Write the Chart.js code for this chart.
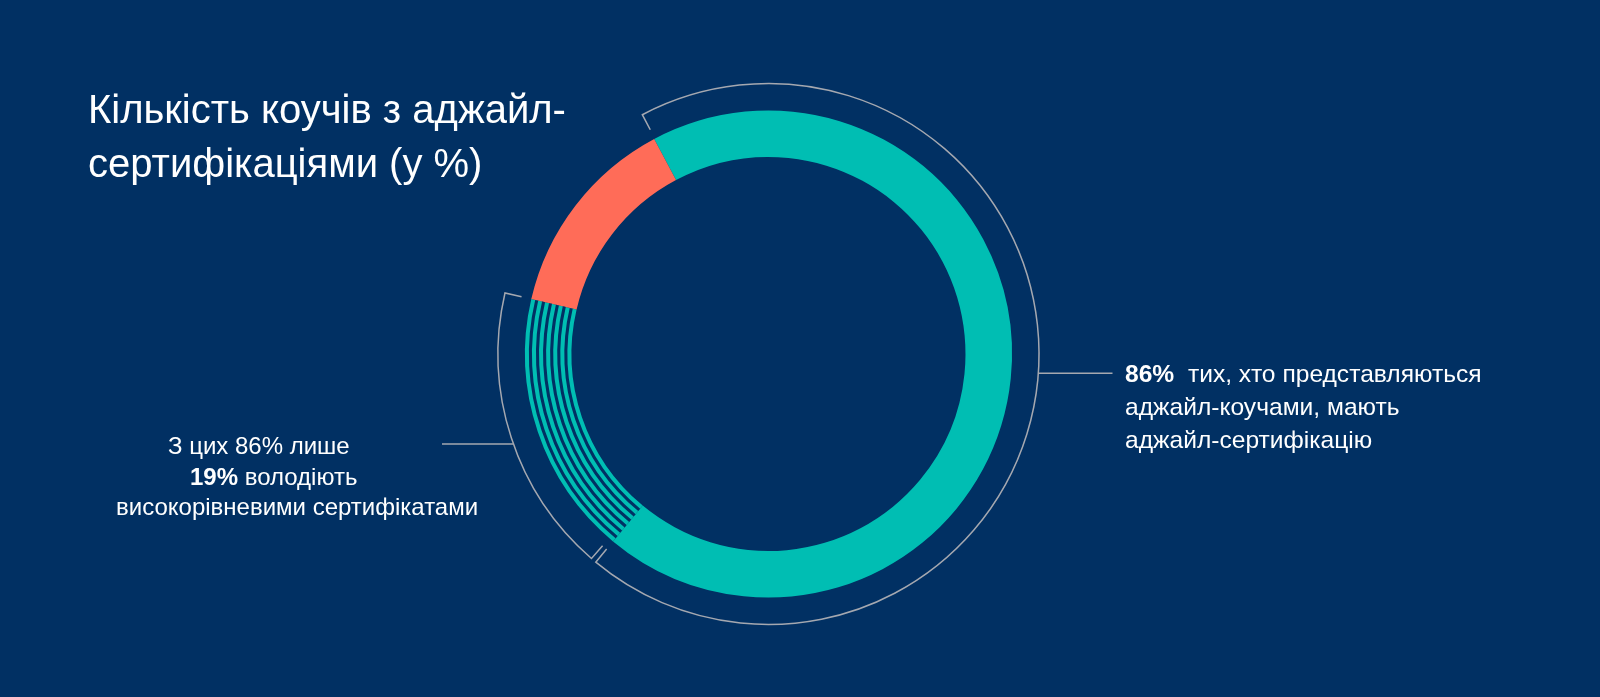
<!DOCTYPE html>
<html>
<head>
<meta charset="utf-8">
<script src="https://cdn.jsdelivr.net/npm/chart.js@4.4.0/dist/chart.umd.min.js"></script>
<style>
  html, body { margin: 0; padding: 0; background: #013063; }
  #wrap { position: relative; width: 1600px; height: 697px; overflow: hidden; background: #013063; font-family: "Liberation Sans", Arial, sans-serif; color: #ffffff; }
  #c { position: absolute; left: 0; top: 0; }
  .title { position: absolute; left: 88px; top: 82px; font-size: 40px; line-height: 54px; white-space: nowrap; }
  .note { position: absolute; white-space: nowrap; }
  .note b { font-weight: bold; }
  #right { left: 1125px; top: 357px; font-size: 24.6px; line-height: 33.2px; }
  #left { left: 0; top: 431px; font-size: 24px; line-height: 30.6px; }
  #left div { position: relative; }
</style>
</head>
<body>
<div id="wrap">
  <canvas id="c" width="1600" height="697"></canvas>
  <div class="title">Кількість коучів з аджайл-<br>сертифікаціями (у %)</div>
  <div class="note" id="right"><b>86%</b>&nbsp; тих, хто представляються<br>аджайл-коучами, мають<br>аджайл-сертифікацію</div>
  <div class="note" id="left">
    <div style="left:168px">З цих 86% лише</div>
    <div style="left:190px"><b>19%</b> володіють</div>
    <div style="left:116px">високорівневими сертифікатами</div>
  </div>
</div>
<script>
// ---- data (% of the ring) ----
const categories = ["Інші аджайл-сертифікати", "Високорівневі сертифікати", "Без сертифікації"];
const shares = [68.8, 17.6, 13.6];
const sliceColors = ["#00BEB3", "#00BEB3", "#FF6C58"];
const hatchedIndex = 1;

const BG = "#013063";
const LINE = "#A5A8B0";

const decorations = {
  id: "decorations",
  afterDatasetsDraw(chart) {
    const meta = chart.getDatasetMeta(0);
    const ctx = chart.ctx;
    const arcs = meta.data;
    const cx = arcs[0].x, cy = arcs[0].y;
    const outer = arcs[0].outerRadius, inner = arcs[0].innerRadius;
    ctx.save();
    // concentric stripes on the hatched slice
    const h = arcs[hatchedIndex];
    const thick = outer - inner;
    const n = 7; // teal stripes
    const gap = thick * 0.066;
    const t = (thick - gap * (n - 1)) / n;
    ctx.strokeStyle = BG;
    ctx.lineWidth = gap;
    ctx.lineCap = "butt";
    for (let k = 0; k < n - 1; k++) {
      const r = inner + t + gap / 2 + k * (t + gap);
      ctx.beginPath();
      ctx.arc(cx, cy, r, h.startAngle, h.endAngle);
      ctx.stroke();
    }
    // brackets
    const rb = outer + 27;
    const tick = 17;
    const deg = Math.PI / 180;
    ctx.strokeStyle = LINE;
    ctx.lineWidth = 1.5;
    function bracket(a0, a1) {
      ctx.beginPath();
      ctx.moveTo(cx + (rb - tick) * Math.cos(a0), cy + (rb - tick) * Math.sin(a0));
      ctx.lineTo(cx + rb * Math.cos(a0), cy + rb * Math.sin(a0));
      ctx.arc(cx, cy, rb, a0, a1);
      ctx.lineTo(cx + (rb - tick) * Math.cos(a1), cy + (rb - tick) * Math.sin(a1));
      ctx.stroke();
    }
    const s = arcs[0];
    bracket(s.startAngle + 0.2 * deg, s.endAngle);
    bracket(h.startAngle + 1.2 * deg, h.endAngle);
    // leader lines
    const yR = 373.3;
    const xR = cx + Math.sqrt(rb * rb - (yR - cy) * (yR - cy));
    ctx.beginPath();
    ctx.moveTo(xR, yR);
    ctx.lineTo(1112.5, yR);
    ctx.stroke();
    const yL = 444;
    const xL = cx - Math.sqrt(rb * rb - (yL - cy) * (yL - cy));
    ctx.beginPath();
    ctx.moveTo(442, yL);
    ctx.lineTo(xL, yL);
    ctx.stroke();
    ctx.restore();
  }
};

new Chart(document.getElementById("c"), {
  type: "doughnut",
  data: {
    labels: categories,
    datasets: [{
      data: shares,
      backgroundColor: sliceColors,
      borderWidth: 0,
      hoverOffset: 0
    }]
  },
  options: {
    responsive: false,
    animation: false,
    rotation: -28.0,
    cutout: "80.9%",
    layout: { padding: { left: 525, top: 110.5, right: 588, bottom: 99.5 } },
    plugins: { legend: { display: false }, tooltip: { enabled: false } },
    events: []
  },
  plugins: [decorations]
});
</script>
</body>
</html>
